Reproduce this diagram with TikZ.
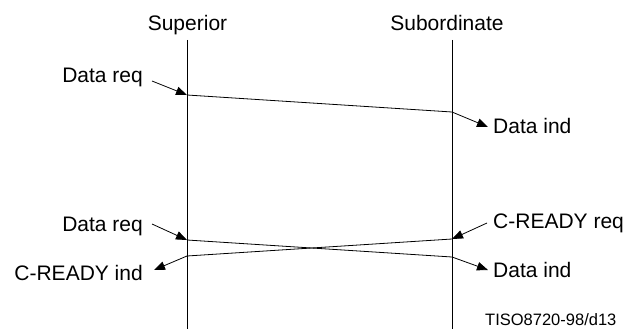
\documentclass[tikz,border=0pt]{standalone}
\usepackage{fontspec}
\setmainfont{Liberation Sans}
\usetikzlibrary{arrows.meta}
\tikzset{
  msgarrow/.style={line width=0.8pt, -{Triangle[length=11pt,width=8.5pt]}},
  label/.style={inner sep=0pt, font=\fontsize{21}{24}\selectfont},
}
\begin{document}
\begin{tikzpicture}[x=1pt,y=-1pt]
    \useasboundingbox (0,0) rectangle (626,329);

    % lifelines
    \coordinate (Ltop) at (187,40);
    \coordinate (Lbot) at (187,329);
    \coordinate (Rtop) at (452,40);
    \coordinate (Rbot) at (452,329);
    \draw[line width=0.9pt] (Ltop) -- (Lbot);
    \draw[line width=0.9pt] (Rtop) -- (Rbot);
    \node[label, anchor=base] (sup) at (187.5,31) {Superior};
    \node[label, anchor=base] (sub) at (447,31) {Subordinate};

    % first data transfer
    \coordinate (A1) at (187,95);
    \coordinate (B1) at (452,112);
    \draw[line width=0.8pt] (A1) -- (B1);
    \node[label, anchor=base east] (req1) at (143,82) {Data req};
    \node[label, anchor=base west] (ind1) at (493,133) {Data ind};
    \coordinate (req1a) at (152,81);
    \coordinate (ind1a) at (488,127);
    \draw[msgarrow] (req1a) -- (A1);
    \draw[msgarrow] (B1) -- (ind1a);

    % crossing data and C-READY
    \coordinate (A2) at (187,240);
    \coordinate (B2) at (452,257);
    \coordinate (A3) at (187,256);
    \coordinate (B3) at (452,239);
    \draw[line width=0.8pt] (A2) -- (B2);
    \draw[line width=0.8pt] (B3) -- (A3);
    \node[label, anchor=base east] (req2) at (143,231) {Data req};
    \node[label, anchor=base west] (ind2) at (493,277) {Data ind};
    \node[label, anchor=base west] (creq) at (493,228) {C-READY req};
    \node[label, anchor=base east] (cind) at (143,280) {C-READY ind};
    \coordinate (req2a) at (152,224);
    \coordinate (ind2a) at (488,270);
    \coordinate (creqa) at (487,223);
    \coordinate (cinda) at (154,270);
    \draw[msgarrow] (req2a) -- (A2);
    \draw[msgarrow] (B2) -- (ind2a);
    \draw[msgarrow] (creqa) -- (B3);
    \draw[msgarrow] (A3) -- (cinda);

    \node[inner sep=0pt, anchor=base west, font=\fontsize{16.5}{20}\selectfont] (tag) at (485,325) {TISO8720-98/d13};
\end{tikzpicture}
\end{document}
